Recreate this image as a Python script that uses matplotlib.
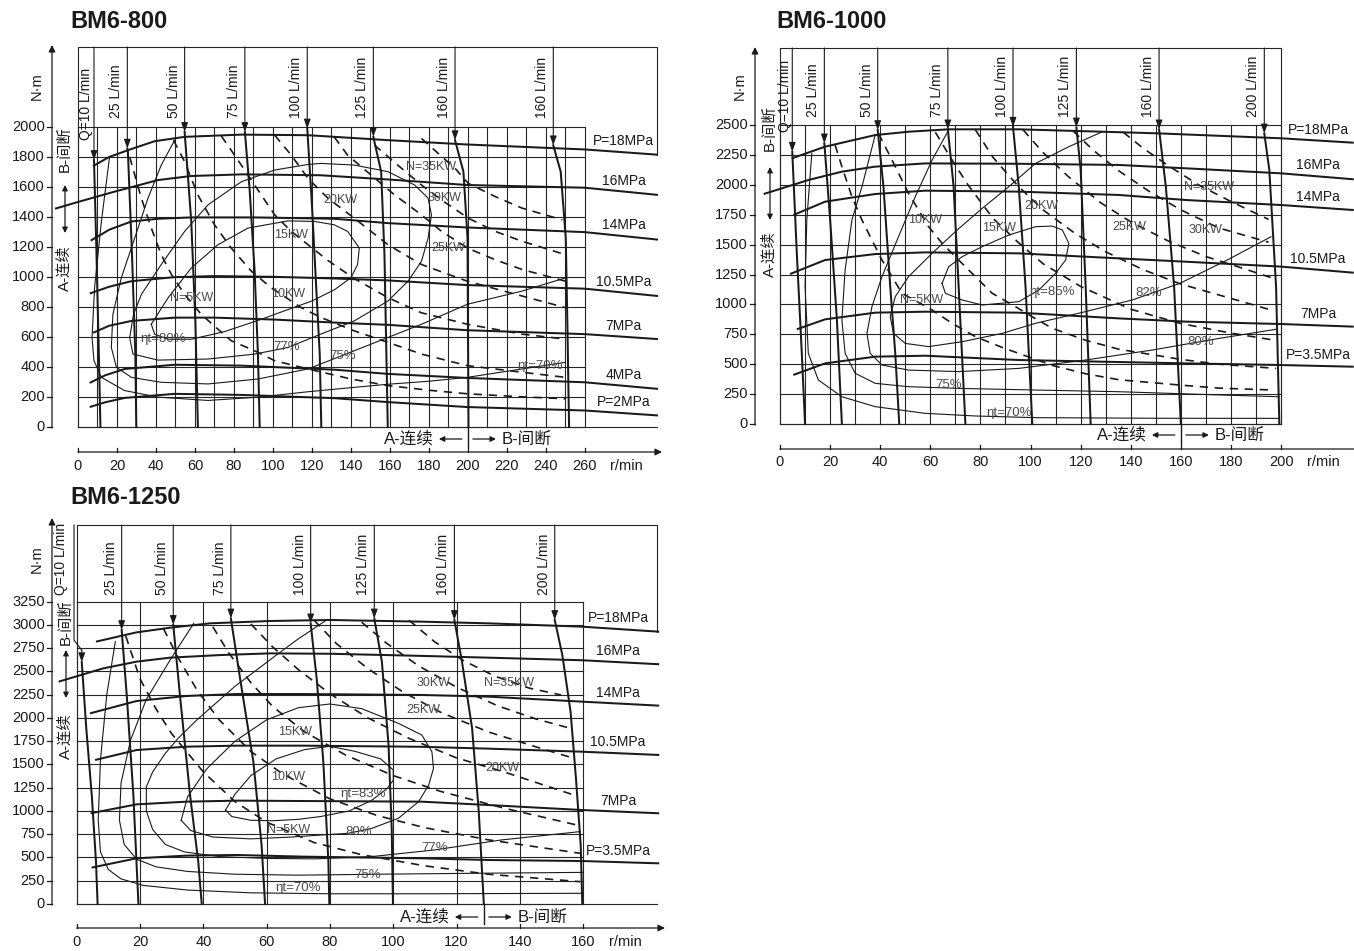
import numpy as np
import matplotlib
matplotlib.use('Agg')
import matplotlib.pyplot as plt
import matplotlib.transforms as mtrans
from matplotlib.lines import Line2D
from matplotlib.patches import FancyArrowPatch
from matplotlib import font_manager as fm

W, H = 1354, 951
_names = {f.name for f in fm.fontManager.ttflist}
NARROW = 'Liberation Sans Narrow' in _names
LATIN = 'Liberation Sans Narrow' if NARROW else 'Liberation Sans'
FS = 1.1 if NARROW else 1.0
plt.rcParams['font.family'] = [LATIN, 'Noto Sans CJK SC', 'DejaVu Sans']

# ====================== DATA ======================
# ---------- BM6-800 ----------
P800_PRESS_LABELS = ['P=18MPa', '16MPa', '14MPa', '10.5MPa', '7MPa', '4MPa', 'P=2MPa']
P800_PRESS_RPM = [
    [7.7, 16, 25.6, 39.3, 54.7, 83.8, 118, 159, 199.7, 260, 297.5],
    [-11.8, 0, 18.8, 41, 58, 84, 124.5, 159, 199.7, 260, 297.5],
    [6.5, 16, 27.4, 41, 58, 90.6, 131.6, 159, 199.7, 260, 297.5],
    [6, 16, 27.4, 49.6, 70, 100.9, 131.6, 159, 199.7, 260, 297.5],
    [7.7, 16, 27.4, 49.6, 70, 100.9, 131.6, 159, 199.7, 260, 297.5],
    [6, 14, 24, 49.6, 83.8, 131.6, 159, 199.7, 260, 297.5],
    [6, 14, 24, 49.6, 83.8, 131.6, 159, 199.7, 260, 297.5],
]
P800_PRESS_TORQUE = [
    [1739, 1800, 1845, 1905, 1934, 1949, 1945, 1912, 1883, 1850, 1815],
    [1455, 1500, 1569, 1646, 1673, 1684, 1678, 1650, 1613, 1595, 1547],
    [1242, 1315, 1370, 1388, 1397, 1397, 1388, 1359, 1330, 1299, 1249],
    [890, 935, 972, 999, 1006, 1001, 990, 977, 946, 922, 873],
    [628, 675, 707, 729, 729, 716, 696, 681, 645, 619, 586],
    [294, 345, 387, 415, 409, 382, 354, 327, 298, 254],
    [133, 165, 194, 221, 214, 192, 166, 133, 110, 77],
]
P800_FLOW_LABELS = ['Q=10 L/min', '25 L/min', '50 L/min', '75 L/min', '100 L/min',
                    '125 L/min', '160 L/min', '160 L/min']
P800_FLOW_TOP = [8.2, 25.3, 54.7, 85.6, 117.6, 151.5, 193.4, 243.8]
P800_FLOW_RPM = [[8.2, 9.4, 10.6, 11.5], [25.3, 25.6, 27.7, 29.4, 29.9],
                 [54.7, 58.1, 60.2, 61.5], [85.6, 88, 90.6, 92.3, 93.2],
                 [117.6, 120, 122.2, 124, 124.8], [151.5, 155.5, 157.2, 158.9],
                 [193.4, 197.7, 199.8, 200.3], [243.8, 247.6, 250.2, 251, 251.9]]
P800_FLOW_TORQUE = [[1780, 1200, 540, 0], [1856, 1834, 1149, 486, 0],
                    [1967, 1370, 707, 0], [1967, 1591, 1039, 486, 0],
                    [1990, 1480, 928, 486, 0], [1934, 1702, 1149, 0],
                    [1912, 1702, 1260, 0], [1878, 1702, 1260, 707, 0]]
P800_PWR_LABELS = ['N=5KW', '10KW', '15KW', '20KW', '25KW', '30KW', 'N=35KW']
P800_PWR_RPM = [
    [26.5, 32.5, 37.6, 42.7, 47.9, 54.7, 63.2, 71.8, 78.6, 90.6, 100.9, 118, 140, 159, 180, 200, 225, 250],
    [49, 54.7, 61.5, 70, 78.6, 88.9, 99.1, 114.5, 124.8, 141.7, 159, 176.2, 199.7, 227.8, 250],
    [73.5, 80.3, 87.2, 94, 100.9, 109.4, 118, 128.2, 141.7, 159, 176, 199.7, 227.8, 250],
    [100.9, 109.4, 118, 128.2, 141.7, 159, 176.2, 199.7, 227.8, 250],
    [131.4, 138.3, 150.3, 162.4, 176.2, 186.5, 200.2, 214, 227.8, 250],
    [152, 164, 176.2, 188, 200.2, 214, 227.8, 250],
    [176.2, 193.4, 200.2, 214, 227.8, 248.4],
]
P800_PWR_TORQUE = [
    [1801, 1525, 1326, 1149, 1017, 884, 751, 652, 575, 508, 442, 387, 320, 276, 245, 221, 203, 188],
    [1912, 1768, 1547, 1348, 1193, 1039, 928, 796, 729, 641, 564, 486, 409, 365, 331],
    [1940, 1812, 1680, 1547, 1414, 1304, 1215, 1110, 990, 862, 762, 685, 619, 586],
    [1945, 1812, 1657, 1525, 1392, 1215, 1083, 972, 873, 796],
    [1934, 1812, 1680, 1547, 1414, 1304, 1190, 1115, 1050, 972],
    [1880, 1746, 1613, 1500, 1392, 1304, 1238, 1149],
    [1923, 1724, 1624, 1536, 1459, 1381],
]
P800_EFF_LABELS = ['ηt=80%', '77%', '75%', 'ηt=70%']
P800_EFF_RPM = [
    [37.6, 46.2, 58.1, 71.8, 87.2, 107.7, 121.4, 131.4, 138.3, 144.3, 143.4, 140, 131.8, 120, 105, 94, 75.2, 58.1, 46.2, 39.3, 37.6],
    [26.5, 28.5, 32.5, 42.7, 54.7, 66.7, 83.8, 100.9, 118, 124.5, 141.7, 159, 172.7, 179.6, 181.3, 179.6, 176.2, 169.3, 159, 141.7, 124.5, 107.7, 90.6, 66.7, 41, 28.2, 26.5],
    [49.6, 42.7, 35.9, 29.1, 22.2, 17.9, 17.1, 19.7, 27.4, 42.7, 66.7, 92.3, 118, 141.7, 159, 176.2, 199.7, 227.8, 250],
    [16.2, 12, 8.5, 7.2, 8.2, 12, 23.9, 41, 66.7, 92.3, 118, 140, 159, 180, 199.7, 227.8, 250],
]
P800_EFF_TORQUE = [
    [685, 861, 1060, 1215, 1326, 1374, 1370, 1348, 1304, 1193, 1083, 995, 917, 840, 770, 718, 636, 585, 585, 619, 685],
    [597, 751, 884, 1083, 1304, 1481, 1635, 1713, 1750, 1757, 1746, 1702, 1613, 1525, 1414, 1260, 1105, 972, 840, 707, 619, 530, 486, 453, 446, 486, 597],
    [1912, 1746, 1525, 1260, 994, 751, 530, 398, 331, 298, 287, 320, 387, 508, 597, 685, 818, 906, 994],
    [1801, 1370, 928, 597, 442, 331, 243, 199, 177, 199, 235, 262, 285, 305, 331, 387, 431],
]
P800_XTICKS = list(range(0, 261, 20))
P800_YTICKS = list(range(0, 2001, 200))

# ---------- BM6-1000 ----------
P1000_PRESS_LABELS = ['P=18MPa', '16MPa', '14MPa', '10.5MPa', '7MPa', 'P=3.5MPa']
P1000_PRESS_RPM = [
    [4.7, 18, 38, 51.3, 67.3, 95.3, 128.7, 151.3, 200, 229],
    [-6.5, 11.3, 24.7, 38, 58, 95.3, 135.3, 162, 200, 229],
    [5.3, 18, 38, 58, 95.3, 135.3, 162, 200, 229],
    [4, 18, 38, 58, 95.3, 135.3, 162, 200, 229],
    [6.7, 18, 38, 58, 95.3, 135.3, 162, 200, 229],
    [5.3, 18, 38, 58, 95.3, 128.7, 162, 200, 229],
]
P1000_PRESS_TORQUE = [
    [2221, 2319, 2416, 2444, 2464, 2464, 2444, 2430, 2389, 2352],
    [1923, 2040, 2110, 2152, 2179, 2176, 2166, 2138, 2096, 2046],
    [1747, 1859, 1923, 1951, 1943, 1915, 1873, 1831, 1789],
    [1254, 1371, 1421, 1435, 1427, 1385, 1357, 1316, 1265],
    [792, 875, 931, 939, 931, 883, 856, 836, 814],
    [410, 507, 563, 571, 535, 521, 507, 493, 479],
]
P1000_FLOW_LABELS = ['Q=10 L/min', '25 L/min', '50 L/min', '75 L/min', '100 L/min',
                     '125 L/min', '160 L/min', '200 L/min']
P1000_FLOW_TOP = [4.9, 17.7, 39, 67, 93, 118.3, 151.3, 193.3]
P1000_FLOW_RPM = [[4.9, 6.7, 8.7, 10], [17.7, 20, 22.7, 24.7], [39, 41.3, 44, 46, 47.6],
                  [67, 69.3, 71.3, 74], [93, 95.3, 98, 100.7], [118.3, 120, 122, 124],
                  [151.3, 154, 157.3, 160], [193.3, 195.3, 198, 199.3]]
P1000_FLOW_TORQUE = [[2277, 1432, 591, 0], [2347, 1711, 875, 0], [2458, 1984, 1148, 591, 0],
                     [2464, 1984, 1148, 0], [2486, 1984, 1148, 0], [2480, 2124, 1148, 0],
                     [2464, 1984, 1148, 0], [2430, 2124, 1148, 0]]
P1000_PWR_LABELS = ['N=5KW', '10KW', '15KW', '20KW', '25KW', '30KW', 'N=35KW']
P1000_PWR_RPM = [
    [22, 24.7, 28.7, 32.7, 36.7, 40.7, 44.7, 48.7, 60.7, 68.7, 78, 88.7, 99.3, 108.7, 122, 135.3, 160, 175.3, 196.7],
    [39.3, 44.7, 51.3, 59.3, 64.7, 71.3, 78, 84.7, 94, 102, 108.7, 122, 135.3, 160, 175.3, 198],
    [62, 68, 75, 85, 95, 105, 120, 140, 160, 180, 197],
    [78, 85, 95, 105, 118, 130, 145, 160, 180, 196],
    [97, 105, 115, 128, 140, 155, 170, 185, 196],
    [117, 125, 135, 147, 160, 175, 195],
    [137, 145, 155, 167, 180, 195],
]
P1000_PWR_TORQUE = [
    [2333, 2152, 1901, 1706, 1538, 1371, 1232, 1093, 953, 842, 730, 640, 560, 490, 420, 370, 325, 300, 284],
    [2430, 2207, 1929, 1650, 1511, 1371, 1232, 1093, 981, 880, 800, 700, 625, 540, 500, 465],
    [2440, 2230, 2000, 1720, 1520, 1340, 1150, 960, 840, 760, 702],
    [2460, 2230, 1990, 1790, 1590, 1440, 1290, 1170, 1050, 953],
    [2460, 2270, 2070, 1850, 1690, 1530, 1400, 1300, 1224],
    [2450, 2290, 2120, 1950, 1790, 1640, 1520],
    [2440, 2305, 2160, 2000, 1860, 1711],
]
P1000_EFF_LABELS = ['ηt=85%', '82%', '80%', '75%', 'ηt=70%']
P1000_EFF_RPM = [
    [64.7, 67.3, 72.7, 80.7, 91.3, 102, 108.7, 112.7, 115.3, 114, 110, 103.3, 95.3, 80.7, 72.7, 66, 64.7],
    [128.7, 115.3, 102, 91.3, 80.7, 70.7, 60.7, 51.3, 46, 44, 45.3, 50, 59.3, 72.7, 88.7, 102, 122, 140.6, 159.6, 178.5, 196],
    [67.3, 60.7, 54, 47.3, 40.7, 36.7, 34.7, 36, 40.7, 51.3, 71.3, 95.3, 122, 148.7, 175.3, 198],
    [38, 32.7, 28.7, 26, 24.7, 26, 30, 38, 51.3, 71.3, 102, 135.3, 175.3, 199.3],
    [12.7, 10.7, 10, 11.3, 15.3, 24.7, 38, 58, 78, 102, 150, 199.3],
]
P1000_EFF_TORQUE = [
    [1176, 1315, 1399, 1483, 1580, 1650, 1655, 1622, 1510, 1371, 1260, 1120, 1023, 995, 1037, 1093, 1176],
    [2444, 2319, 2179, 1984, 1803, 1622, 1427, 1232, 1065, 897, 758, 674, 647, 688, 758, 842, 940, 1037, 1176, 1371, 1566],
    [2458, 2207, 1901, 1566, 1232, 981, 758, 591, 493, 451, 438, 465, 535, 619, 716, 792],
    [2416, 1984, 1706, 1288, 870, 591, 424, 340, 312, 298, 284, 270, 243, 228],
    [2263, 1706, 1148, 591, 368, 228, 145, 89, 67, 53, 48, 47],
]
P1000_XTICKS = list(range(0, 201, 20))
P1000_YTICKS = list(range(0, 2501, 250))

# ---------- BM6-1250 ----------
P1250_PRESS_LABELS = ['P=18MPa', '16MPa', '14MPa', '10.5MPa', '7MPa', 'P=3.5MPa']
P1250_PRESS_RPM = [
    [6.1, 18.9, 29.5, 42.1, 61, 80, 109, 130, 159.7, 184],
    [-5.7, 8.4, 18.9, 29.5, 45.3, 61, 80, 109, 130, 159.7, 184],
    [4.2, 18.9, 34.7, 50.5, 71.6, 109, 130, 159.7, 184],
    [5.8, 18.9, 34.7, 50.5, 71.6, 109, 130, 159.7, 184],
    [4.4, 18.9, 34.7, 50.5, 71.6, 109, 130, 159.7, 184],
    [4.7, 18.9, 34.7, 50.5, 71.6, 109, 130, 159.7, 184],
]
P1250_PRESS_TORQUE = [
    [2820, 2920, 2970, 3017, 3042, 3053, 3035, 3017, 2981, 2927],
    [2390, 2533, 2605, 2648, 2676, 2694, 2690, 2667, 2648, 2620, 2577],
    [2049, 2182, 2236, 2257, 2257, 2247, 2229, 2175, 2132],
    [1548, 1655, 1691, 1702, 1702, 1690, 1670, 1637, 1602],
    [975, 1071, 1100, 1111, 1107, 1100, 1064, 1010, 975],
    [391, 491, 520, 527, 509, 491, 473, 462, 437],
]
P1250_FLOW_LABELS = ['Q=10 L/min', '25 L/min', '50 L/min', '75 L/min', '100 L/min',
                     '125 L/min', '160 L/min', '200 L/min']
P1250_FLOW_TOP = [-0.85, 14.2, 30.5, 48.7, 73.9, 94, 119.3, 151]
P1250_FLOW_RPM = [[1.6, 3, 4.8, 6.1, 6.6], [14.2, 15.8, 17.9, 19.5], [30.5, 32.6, 35.8, 38.4, 39.5],
                  [48.7, 51.6, 55.8, 58.4, 59.5], [73.9, 75.8, 77.9, 79.5, 79.8],
                  [94, 96.4, 98.5, 99.5, 99.9], [119.3, 121.7, 124.9, 127, 128.6],
                  [151, 153.4, 156, 157.7, 159.2, 159.7]]
P1250_FLOW_TORQUE = [[2600, 1900, 1150, 450, 0], [2945, 2247, 1172, 0], [3000, 2247, 1172, 455, 0],
                     [3070, 2426, 1530, 634, 0], [3017, 2426, 1530, 455, 0],
                     [3070, 2605, 1709, 813, 0], [3053, 2605, 1888, 992, 0],
                     [3053, 2676, 2067, 1351, 634, 0]]
P1250_PWR_LABELS = ['N=5KW', '10KW', '15KW', '20KW', '25KW', '30KW', 'N=35KW']
P1250_PWR_RPM = [
    [15.5, 20, 25, 30, 40, 50, 60, 75, 90, 110, 130, 159],
    [27.4, 32, 38, 45, 55, 65, 80, 95, 110, 130, 159],
    [43, 48, 55, 62, 72, 85, 100, 115, 135, 158],
    [55, 62, 70, 80, 92, 105, 120, 135, 157],
    [75, 82, 92, 103, 115, 130, 145, 157],
    [90, 98, 108, 120, 133, 145, 156],
    [105, 113, 122, 132, 143, 153],
]
P1250_PWR_TORQUE = [
    [2880, 2420, 2100, 1830, 1420, 1100, 880, 660, 530, 410, 320, 240],
    [2960, 2650, 2300, 1980, 1640, 1400, 1130, 950, 820, 690, 545],
    [2980, 2700, 2380, 2120, 1850, 1600, 1380, 1210, 1030, 849],
    [3010, 2760, 2520, 2260, 2000, 1780, 1570, 1420, 1172],
    [3050, 2800, 2530, 2280, 2060, 1850, 1690, 1566],
    [3030, 2800, 2560, 2330, 2130, 1990, 1888],
    [3050, 2820, 2620, 2450, 2320, 2247],
]
P1250_EFF_LABELS = ['ηt=83%', '80%', '77%', '75%', 'ηt=70%']
P1250_EFF_RPM = [
    [47, 50, 55, 63, 72, 80, 88, 96, 100, 100, 98, 93, 86, 77, 70, 62, 55, 49, 47],
    [33, 35, 41, 50, 60, 70, 80, 90, 101.6, 109, 112.2, 112.7, 111.2, 108, 101.6, 93.2, 85.8, 77.4, 68, 55, 43, 36, 33],
    [79, 70, 64, 57, 50, 44, 38, 32, 28, 24, 22, 22, 24, 28, 34, 45, 60, 75, 93, 113, 134, 159],
    [37, 30, 22, 17, 14, 13.5, 15, 19, 25, 35, 50, 70, 95, 125, 160],
    [12.2, 9.5, 7.5, 6.8, 7.5, 10, 14, 21, 35, 55, 80, 110, 160],
]
P1250_EFF_TORQUE = [
    [1010, 1180, 1380, 1560, 1660, 1695, 1640, 1560, 1440, 1330, 1240, 1110, 1000, 940, 910, 895, 900, 940, 1010],
    [900, 1150, 1450, 1750, 1980, 2110, 2150, 2100, 1942, 1817, 1637, 1458, 1279, 1100, 921, 813, 760, 742, 720, 700, 720, 790, 900],
    [3054, 2850, 2700, 2520, 2340, 2160, 1980, 1780, 1620, 1420, 1260, 1000, 800, 640, 560, 510, 490, 485, 509, 581, 688, 778],
    [3018, 2650, 2200, 1760, 1300, 900, 640, 480, 400, 350, 320, 310, 320, 330, 340],
    [2820, 2250, 1550, 900, 560, 370, 270, 200, 150, 120, 110, 110, 115],
]
P1250_XTICKS = list(range(0, 161, 20))
P1250_YTICKS = list(range(0, 3251, 250))

# ====================== LAYOUT ======================
INK = '#1a1a1a'
GRIDC = '#262626'
SOFT = '#4a4a4a'

PANELS = [
    dict(title='BM6-800', title_xy=(70, 22), box=(78, 657, 427, 47), xmax=297.0, ymax=2533.0,
         grid=(260, 10, 2000, 200), frame_right=297.0, right_bottom=1815,
         press=(P800_PRESS_LABELS, P800_PRESS_RPM, P800_PRESS_TORQUE), press_lab_x=280,
         flow=(P800_FLOW_LABELS, P800_FLOW_TOP, P800_FLOW_RPM, P800_FLOW_TORQUE),
         flow_lab_T=2060, q10=(-8, 22),
         pwr=(P800_PWR_LABELS, P800_PWR_RPM, P800_PWR_TORQUE),
         pwr_pos=[(58.1, 862), (107.7, 884), (109.4, 1282), (134.8, 1514), (189.9, 1193), (188.2, 1525), (181.3, 1735)],
         eff=(P800_EFF_LABELS, P800_EFF_RPM, P800_EFF_TORQUE),
         eff_pos=[(43.6, 585), (106.8, 530), (135.7, 475), (237, 409)],
         xticks=P800_XTICKS, yticks=P800_YTICKS,
         yaxis=(52, 428, 45), xaxis=(452, 466, 662),
         left=((37, 86), (65, 149), (65, 185, 233), (65, 268)),
         divider=200, row_y=439),
    dict(title='BM6-1000', title_xy=(776, 22), box=(780, 1354, 424, 48), xmax=229.1, ymax=3144.0,
         grid=(200, 10, 2500, 250), frame_right=200.0, right_bottom=0,
         press=(P1000_PRESS_LABELS, P1000_PRESS_RPM, P1000_PRESS_TORQUE), press_lab_x=214.8,
         flow=(P1000_FLOW_LABELS, P1000_FLOW_TOP, P1000_FLOW_RPM, P1000_FLOW_TORQUE),
         flow_lab_T=2567, q10=(-7, 15),
         pwr=(P1000_PWR_LABELS, P1000_PWR_RPM, P1000_PWR_TORQUE),
         pwr_pos=[(56.7, 1037), (58, 1706), (87.3, 1636), (104.3, 1823), (139.3, 1650), (170, 1622), (171.3, 1984)],
         eff=(P1000_EFF_LABELS, P1000_EFF_RPM, P1000_EFF_TORQUE),
         eff_pos=[(108.7, 1106), (147.3, 1093), (168, 688), (67.3, 326), (91.3, 89)],
         xticks=P1000_XTICKS, yticks=P1000_YTICKS,
         yaxis=(755, 425, 47), xaxis=(449, 462, 1362),
         left=((740, 86), (770, 128), (770, 167, 220), (770, 254)),
         divider=160, row_y=435),
    dict(title='BM6-1250', title_xy=(70, 498), box=(76.7, 657, 904, 525), xmax=183.3, ymax=4074.0,
         grid=(160, 20, 3250, 250), frame_right=183.3, right_bottom=2927,
         press=(P1250_PRESS_LABELS, P1250_PRESS_RPM, P1250_PRESS_TORQUE), press_lab_x=171,
         flow=(P1250_FLOW_LABELS, P1250_FLOW_TOP, P1250_FLOW_RPM, P1250_FLOW_TORQUE),
         flow_lab_T=3323, q10=(-13, 0),
         pwr=(P1250_PWR_LABELS, P1250_PWR_RPM, P1250_PWR_TORQUE),
         pwr_pos=[(67, 795), (66.8, 1369), (69, 1852), (134.4, 1458), (109.6, 2085), (112.7, 2372), (136.5, 2372)],
         eff=(P1250_EFF_LABELS, P1250_EFF_RPM, P1250_EFF_TORQUE),
         eff_pos=[(90.6, 1179), (89, 778), (113, 599), (92, 312), (70, 168)],
         xticks=P1250_XTICKS, yticks=P1250_YTICKS,
         yaxis=(52, 905, 518), xaxis=(928, 942, 665),
         left=((37, 559), (66, 622), (66, 650, 698), (66, 736)),
         divider=128.6, row_y=917),
]

fig = plt.figure(figsize=(W / 100, H / 100), dpi=100)
fig.patch.set_facecolor('white')
ID = mtrans.IdentityTransform()


def ftext(px, py, s, **kw):
    fig.text(px / W, 1 - py / H, s, **kw)


def fline(xs, ys, **kw):
    kw.setdefault('color', INK)
    kw.setdefault('lw', 0.9)
    fig.add_artist(Line2D(xs, [H - v for v in ys], transform=ID, **kw))


def farrow(p0, p1, style='-|>', ms=9, lw=0.9):
    fig.add_artist(FancyArrowPatch((p0[0], H - p0[1]), (p1[0], H - p1[1]), arrowstyle=style,
                                   transform=ID, shrinkA=0, shrinkB=0, mutation_scale=ms,
                                   lw=lw, color=INK))


def draw_panel(c):
    L, R, B, T = c['box']
    ax = fig.add_axes([L / W, 1 - B / H, (R - L) / W, (B - T) / H])
    ax.set_xlim(0, c['xmax'])
    ax.set_ylim(0, c['ymax'])
    ax.axis('off')
    sy = (B - T) / c['ymax']

    def to_px(x, y):
        d = ax.transData.transform((x, y))
        return d[0], H - d[1]

    gxm, gxs, gym, gys = c['grid']
    for v in np.arange(0, gxm + 0.1, gxs):
        ax.plot([v, v], [0, gym], color=GRIDC, lw=0.8, clip_on=False)
    for v in np.arange(0, gym + 0.1, gys):
        ax.plot([0, gxm], [v, v], color=GRIDC, lw=0.8, clip_on=False)
    fr = c['frame_right']
    ym = c['ymax']
    ax.plot([0, 0, fr, fr], [0, ym, ym, c['right_bottom']], color=GRIDC, lw=0.8, clip_on=False)
    ax.plot([0, fr], [0, 0], color=GRIDC, lw=0.8, clip_on=False)

    # efficiency contours
    labs, xs, ys = c['eff']
    for x, y in zip(xs, ys):
        ax.plot(x, y, color=INK, lw=0.8, clip_on=False)
    for lab, (lx, ly) in zip(labs, c['eff_pos']):
        ax.text(lx, ly, lab, ha='center', va='center', fontsize=9.5 * FS, color=SOFT, clip_on=False)

    # constant power (dashed)
    labs, xs, ys = c['pwr']
    for x, y in zip(xs, ys):
        ax.plot(x, y, color=INK, lw=1.2, ls=(0, (5, 4)), clip_on=False)
    for lab, (lx, ly) in zip(labs, c['pwr_pos']):
        ax.text(lx, ly, lab, ha='center', va='center', fontsize=9 * FS, color=SOFT, clip_on=False)

    # pressure lines
    labs, xs, ys = c['press']
    for lab, x, y in zip(labs, xs, ys):
        ax.plot(x, y, color=INK, lw=1.45, clip_on=False, solid_capstyle='butt')
        ly = np.interp(c['press_lab_x'], x, y) + 11 / sy
        ax.text(c['press_lab_x'], ly, lab, ha='center', va='center', fontsize=10 * FS,
                color=INK, clip_on=False)

    # flow lines
    labs, tops, xs, ys = c['flow']
    for i, (lab, top, x, y) in enumerate(zip(labs, tops, xs, ys)):
        tip = (x[0], y[0])
        if abs(top - x[0]) > 0.01:
            k1 = y[0] + 22 / sy
            k2 = y[0] + 12 / sy
            ax.plot([top, top, x[0]], [ym, k1, k2], color=INK, lw=0.8, clip_on=False)
            start = (x[0], k2)
        else:
            start = (top, ym)
        ax.annotate('', xy=tip, xytext=start,
                    arrowprops=dict(arrowstyle='-|>,head_length=0.55,head_width=0.2',
                                    lw=0.8, color=INK, shrinkA=0, shrinkB=0))
        ax.plot(x, y, color=INK, lw=1.45, clip_on=False)
        if i == 0:
            dx, drop = c['q10']
        else:
            dx, drop = -11, 0
        tr = mtrans.offset_copy(ax.transData, fig=fig, x=dx, y=-drop, units='dots')
        ax.text(top, c['flow_lab_T'], lab, rotation=90, ha='center', va='bottom',
                fontsize=10 * FS, color=INK, transform=tr, clip_on=False)

    # y axis
    axx, yb, yt = c['yaxis']
    farrow((axx, yb), (axx, yt), ms=10)
    for v in c['yticks']:
        _, py = to_px(0, v)
        fline([axx - 5, axx], [py, py])
        ftext(axx - 7, py, str(v), ha='right', va='center', fontsize=10.5 * FS, color=INK)
    # x axis
    ya, ylab, xtip = c['xaxis']
    x0, _ = to_px(0, 0)
    farrow((x0, ya), (xtip, ya), ms=10)
    lastpx = x0
    for v in c['xticks']:
        px, _ = to_px(v, 0)
        fline([px, px], [ya - 4, ya])
        ftext(px, ylab, str(v), ha='center', va='center', fontsize=10.5 * FS, color=INK)
        lastpx = px
    ftext(lastpx + 42, ylab, 'r/min', ha='center', va='center', fontsize=10.5 * FS, color=INK)

    # left-side labels
    (nx, ny), (bx, by), (ax_, a0, a1), (cx, cy) = c['left']
    ftext(nx, ny, 'N·m', rotation=90, ha='center', va='center', fontsize=10.5 * FS, color=INK)
    ftext(bx, by, 'B-间断', rotation=90, ha='center', va='center', fontsize=11, color=INK)
    farrow((ax_, a1), (ax_, a0), style='<|-|>', ms=8)
    ftext(cx, cy, 'A-连续', rotation=90, ha='center', va='center', fontsize=11, color=INK)

    # continuous / intermittent divider
    D, _ = to_px(c['divider'], 0)
    fline([D, D], [B, B + 20], lw=1.0)
    ry = c['row_y']
    ftext(D - 34, ry, 'A-连续', ha='right', va='center', fontsize=12, color=INK)
    farrow((D - 6, ry), (D - 29, ry), ms=8)
    farrow((D + 5, ry), (D + 28, ry), ms=8)
    ftext(D + 34, ry, 'B-间断', ha='left', va='center', fontsize=12, color=INK)

    # title
    tx, ty = c['title_xy']
    ftext(tx, ty, c['title'], ha='left', va='center', fontsize=17, fontweight='bold',
          family=['Liberation Sans', 'DejaVu Sans'], color=INK)


for cfg in PANELS:
    draw_panel(cfg)

fig.savefig('out.png', dpi=100, facecolor='white')
